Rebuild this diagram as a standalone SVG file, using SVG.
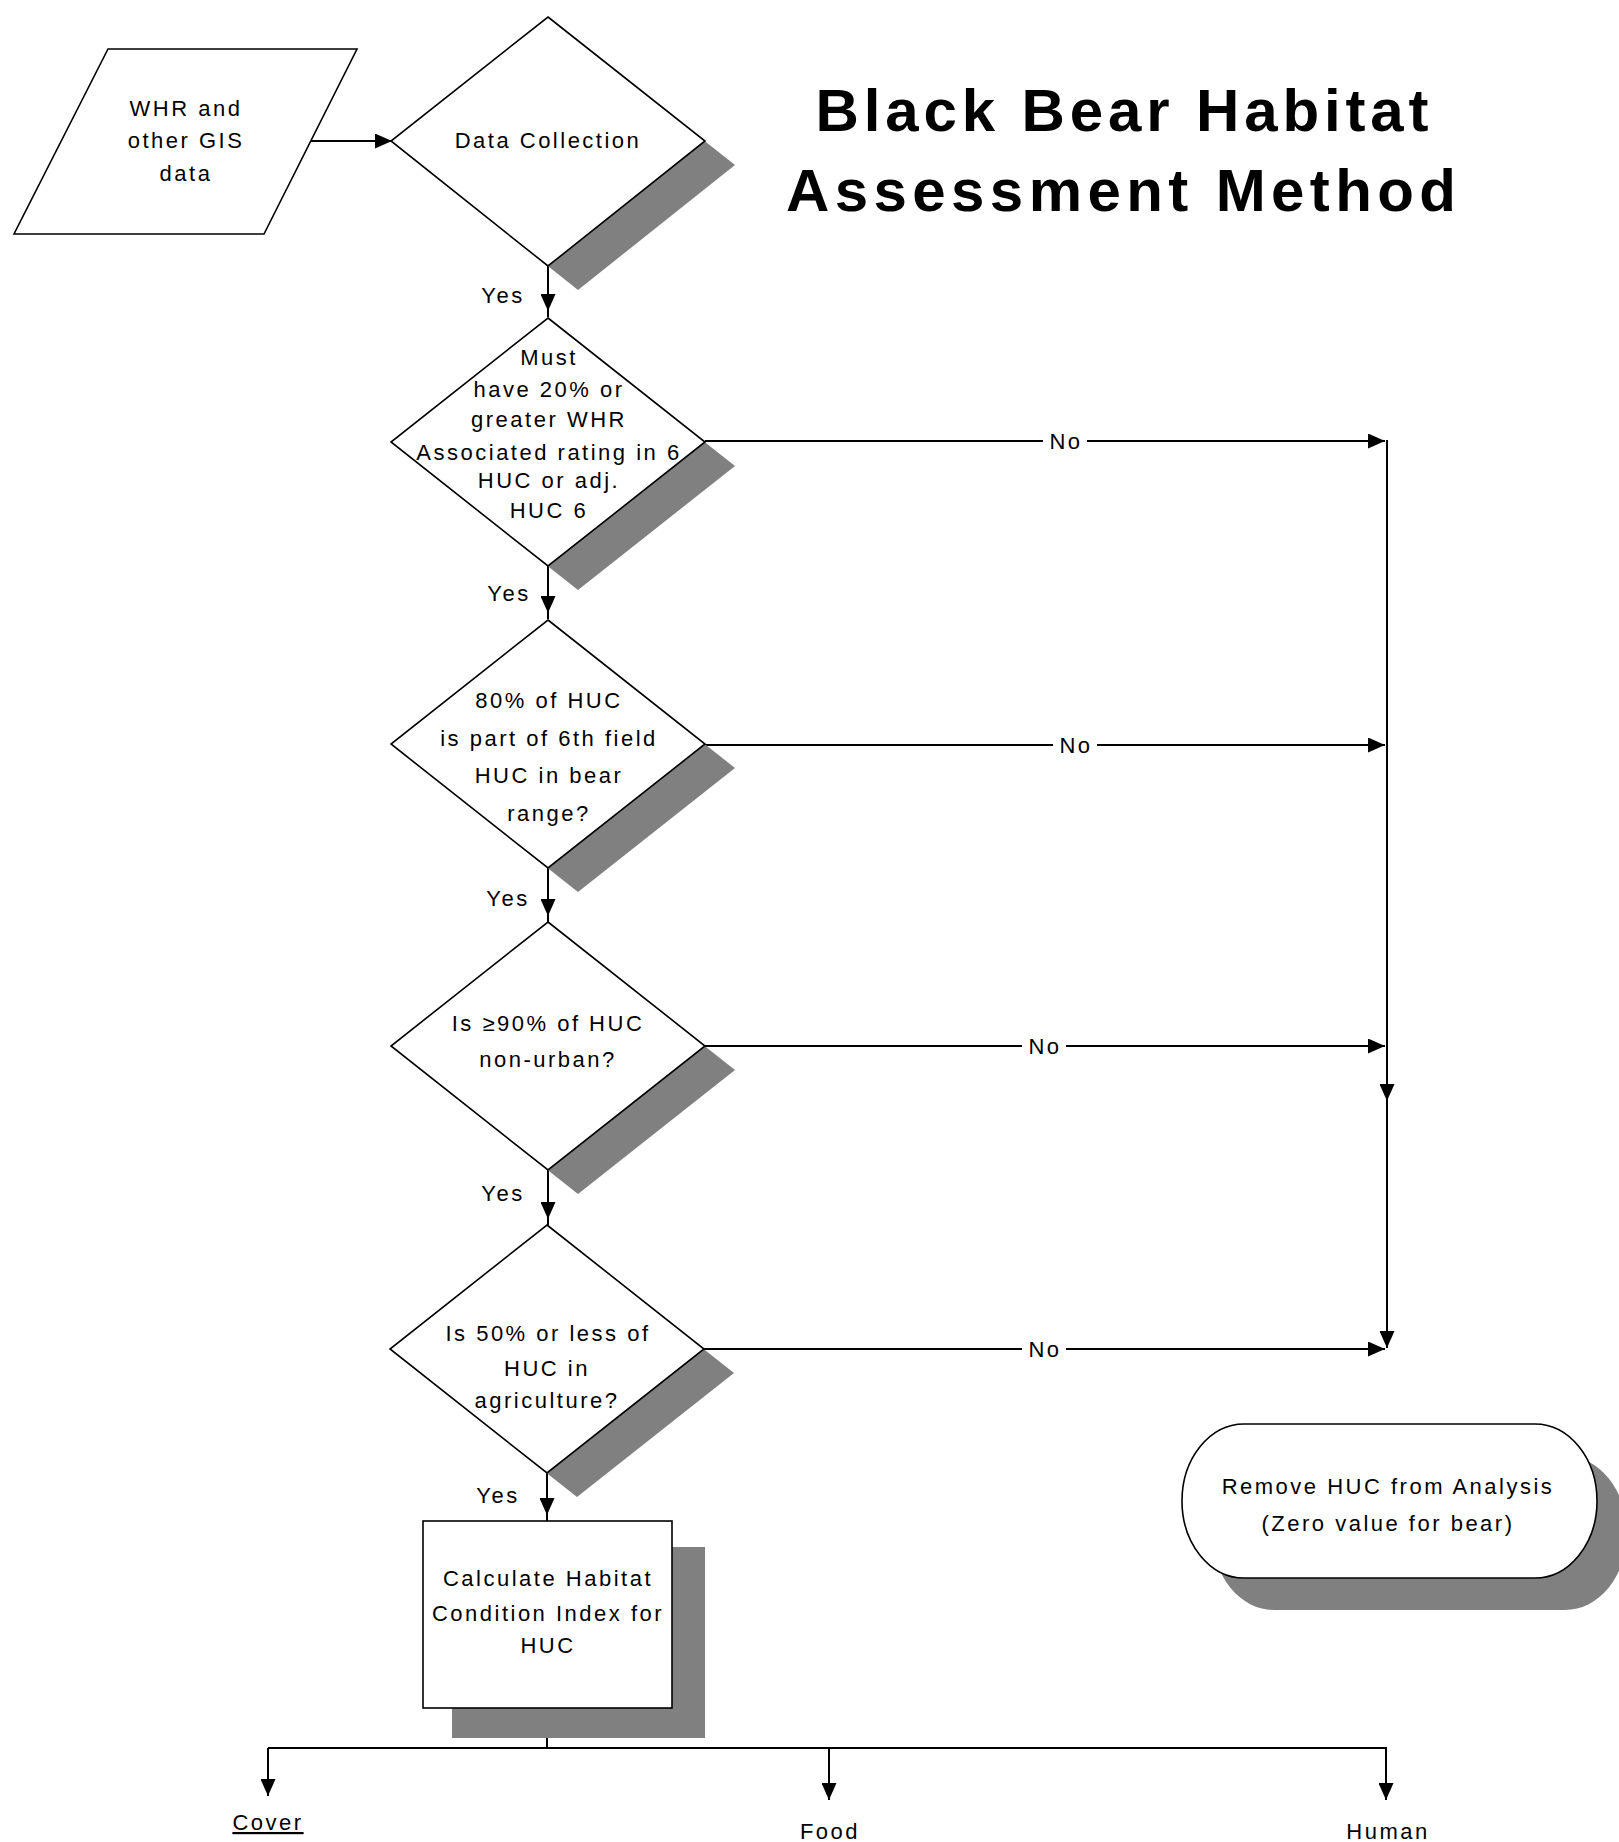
<svg xmlns="http://www.w3.org/2000/svg" width="1619" height="1842" viewBox="0 0 1619 1842">
  <style>
    .bg { fill: #ffffff; }
    .shape { fill: #ffffff; stroke: #000000; stroke-width: 1.6; }
    .shadow { fill: #808080; stroke: none; }
    .label { font-family: "Liberation Sans", Arial, sans-serif; font-size: 22px; letter-spacing: 2.5px; fill: #000000; text-anchor: middle; }
    .title { font-family: "Liberation Sans", Arial, sans-serif; font-size: 60px; font-weight: bold; fill: #000000; text-anchor: middle; }
    .wire { fill: none; stroke: #000000; stroke-width: 2; }
  </style>
  <defs>
    <marker id="tip" viewBox="0 0 17 15" markerWidth="17" markerHeight="15" refX="17" refY="7.5" orient="auto" markerUnits="userSpaceOnUse">
      <path d="M0,0 L17,7.5 L0,15 z" fill="#000000"/>
    </marker>
    <marker id="tipGap" viewBox="0 0 17 15" markerWidth="17" markerHeight="15" refX="23" refY="7.5" orient="auto" markerUnits="userSpaceOnUse">
      <path d="M0,0 L17,7.5 L0,15 z" fill="#000000"/>
    </marker>
  </defs>

  <rect class="bg" x="0" y="0" width="1619" height="1842"/>

  <!-- Title -->
  <g id="title">
    <text class="title" x="1122" y="131" textLength="613" lengthAdjust="spacing">Black Bear Habitat</text>
    <text class="title" x="1121" y="211" textLength="670" lengthAdjust="spacing">Assessment Method</text>
  </g>

  <!-- Connectors -->
  <g id="connectors">
    <!-- input to data collection -->
    <path class="wire" d="M311,141 L392,141" marker-end="url(#tip)"/>
    <!-- Yes branches down the main column -->
    <path class="wire" d="M548,266 L548,317" marker-end="url(#tipGap)"/>
    <path class="wire" d="M548,566 L548,619" marker-end="url(#tipGap)"/>
    <path class="wire" d="M548,868 L548,922" marker-end="url(#tipGap)"/>
    <path class="wire" d="M548,1170 L548,1225" marker-end="url(#tipGap)"/>
    <path class="wire" d="M547,1473 L547,1521" marker-end="url(#tipGap)"/>
    <text class="label" x="503" y="303">Yes</text>
    <text class="label" x="509" y="601">Yes</text>
    <text class="label" x="508" y="906">Yes</text>
    <text class="label" x="503" y="1201">Yes</text>
    <text class="label" x="498" y="1503">Yes</text>

    <!-- No branches to the right-hand collector -->
    <path class="wire" d="M705,441 L1043,441"/>
    <path class="wire" d="M1087,441 L1385,441" marker-end="url(#tip)"/>
    <text class="label" x="1066" y="449">No</text>

    <path class="wire" d="M705,745 L1053,745"/>
    <path class="wire" d="M1097,745 L1385,745" marker-end="url(#tip)"/>
    <text class="label" x="1076" y="753">No</text>

    <path class="wire" d="M705,1046 L1022,1046"/>
    <path class="wire" d="M1066,1046 L1385,1046" marker-end="url(#tip)"/>
    <text class="label" x="1045" y="1054">No</text>

    <path class="wire" d="M704,1349 L1022,1349"/>
    <path class="wire" d="M1066,1349 L1385,1349" marker-end="url(#tip)"/>
    <text class="label" x="1045" y="1357">No</text>

    <!-- collector line -->
    <path class="wire" d="M1387,440 L1387,1101" marker-end="url(#tip)"/>
    <path class="wire" d="M1387,1101 L1387,1348" marker-end="url(#tip)"/>

    <!-- fan-out below the index box -->
    <path class="wire" d="M547,1708 L547,1748"/>
    <path class="wire" d="M268,1748 L1387,1748"/>
    <path class="wire" d="M268,1748 L268,1796" marker-end="url(#tip)"/>
    <path class="wire" d="M829,1748 L829,1800" marker-end="url(#tip)"/>
    <path class="wire" d="M1386,1748 L1386,1800" marker-end="url(#tip)"/>
  </g>

  <!-- Input data -->
  <g id="input-data">
    <polygon class="shape" points="108,49 357,49 264,234 14,234" stroke-width="2"/>
    <text class="label" x="186" y="116">WHR and</text>
    <text class="label" x="186" y="148">other GIS</text>
    <text class="label" x="186" y="181">data</text>
  </g>

  <!-- Decision: data collection -->
  <g id="data-collection">
    <polygon class="shadow" points="578,41 735,165 578,290 421,165"/>
    <polygon class="shape" points="548,17 705,141 548,266 391,141"/>
    <text class="label" x="548" y="148">Data Collection</text>
  </g>

  <!-- Decision: WHR rating -->
  <g id="whr-rating">
    <polygon class="shadow" points="578,342 735,466 578,590 421,466"/>
    <polygon class="shape" points="548,318 705,442 548,566 391,442"/>
    <text class="label" x="549" y="365">Must</text>
    <text class="label" x="549" y="397">have 20% or</text>
    <text class="label" x="549" y="427">greater WHR</text>
    <text class="label" x="549" y="460">Associated rating in 6</text>
    <text class="label" x="549" y="488">HUC or adj.</text>
    <text class="label" x="549" y="518">HUC 6</text>
  </g>

  <!-- Decision: bear range -->
  <g id="bear-range">
    <polygon class="shadow" points="578,644 735,768 578,892 421,768"/>
    <polygon class="shape" points="548,620 705,744 548,868 391,744"/>
    <text class="label" x="549" y="708">80% of HUC</text>
    <text class="label" x="549" y="746">is part of 6th field</text>
    <text class="label" x="549" y="783">HUC in bear</text>
    <text class="label" x="549" y="821">range?</text>
  </g>

  <!-- Decision: non-urban -->
  <g id="non-urban">
    <polygon class="shadow" points="578,946 735,1070 578,1194 421,1070"/>
    <polygon class="shape" points="548,922 705,1046 548,1170 391,1046"/>
    <text class="label" x="548" y="1031">Is ≥90% of HUC</text>
    <text class="label" x="548" y="1067">non-urban?</text>
  </g>

  <!-- Decision: agriculture -->
  <g id="agriculture">
    <polygon class="shadow" points="577,1249 734,1373 577,1497 420,1373"/>
    <polygon class="shape" points="547,1225 704,1349 547,1473 390,1349"/>
    <text class="label" x="548" y="1341">Is 50% or less of</text>
    <text class="label" x="547" y="1376">HUC in</text>
    <text class="label" x="547" y="1408">agriculture?</text>
  </g>

  <!-- Process: habitat condition index -->
  <g id="habitat-index">
    <rect class="shadow" x="452" y="1547" width="253" height="191"/>
    <rect class="shape" x="423" y="1521" width="249" height="187" stroke-width="2"/>
    <text class="label" x="548" y="1586">Calculate Habitat</text>
    <text class="label" x="548" y="1621">Condition Index for</text>
    <text class="label" x="548" y="1653">HUC</text>
  </g>

  <!-- Terminator: remove HUC -->
  <g id="remove-huc">
    <rect class="shadow" x="1212" y="1456" width="415" height="154" rx="62" ry="77"/>
    <rect class="shape" x="1182" y="1424" width="415" height="154" rx="62" ry="77"/>
    <text class="label" x="1388" y="1494">Remove HUC from Analysis</text>
    <text class="label" x="1388" y="1531">(Zero value for bear)</text>
  </g>

  <!-- Outputs -->
  <g id="out-cover">
    <text class="label" x="268" y="1830" text-decoration="underline">Cover</text>
  </g>
  <g id="out-food">
    <text class="label" x="830" y="1839">Food</text>
  </g>
  <g id="out-human">
    <text class="label" x="1388" y="1839">Human</text>
  </g>
</svg>
